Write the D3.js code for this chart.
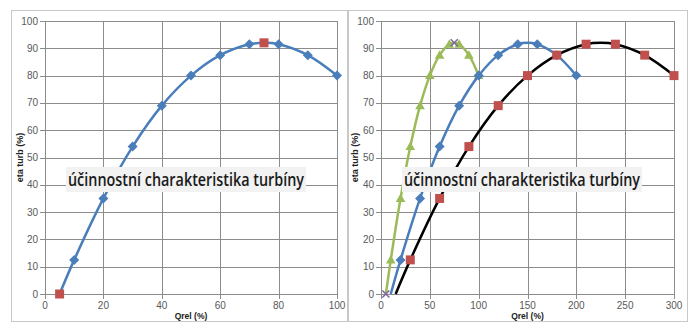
<!DOCTYPE html>
<html>
<head>
<meta charset="utf-8">
<script src="https://cdn.jsdelivr.net/npm/d3@7"></script>
<style>
  body { margin: 0; background: #fff; }
  svg { display: block; }
</style>
</head>
<body>
<div id="chart"></div>
<script>
// left panel: one turbine
let qrelLeft = [5, 10, 20, 30, 40, 50, 60, 70, 75, 80, 90, 100];
let etaLeft = [0, 12.5, 35, 54, 69, 80, 87.5, 91.5, 92, 91.5, 87.5, 80];
let keyQrelLeft = [5, 75];
let keyEtaLeft = [0, 92];

// right panel: three turbine sizes
let qrelGreen = [5, 10, 20, 30, 40, 50, 60, 70, 75, 80, 90, 100];
let qrelBlue = [10, 20, 40, 60, 80, 100, 120, 140, 150, 160, 180, 200];
let qrelBlack = [15, 30, 60, 90, 120, 150, 180, 210, 225, 240, 270, 300];
let etaRight = [0, 12.5, 35, 54, 69, 80, 87.5, 91.5, 92, 91.5, 87.5, 80];
let keyQrelRight = [5, 75];
let keyEtaRight = [0, 92];

let yTicks = [0, 10, 20, 30, 40, 50, 60, 70, 80, 90, 100];
let xTicksLeft = [0, 20, 40, 60, 80, 100];
let xTicksRight = [0, 50, 100, 150, 200, 250, 300];

let caption = "účinnostní charakteristika turbíny";
let xTitle = "Qrel (%)";
let yTitle = "eta turb (%)";

let font = "'Liberation Sans', Arial, sans-serif";
let gridColor = "#8c8c8c";
let tickColor = "#595959";

let svg = d3.select("#chart").append("svg")
    .attr("width", 700)
    .attr("height", 330);

function zip(xs, ys) {
    return xs.map((x, i) => ({ x: x, y: ys[i] }));
}

// marker shapes like the spreadsheet ones
let shapes = {
    diamond: "M0,-5L5,0L0,5L-5,0Z",
    triangle: "M0,-5L4.8,3.5L-4.8,3.5Z",
    square: "M-4.5,-4.5H4.5V4.5H-4.5Z"
};

function drawPanel(p) {
    let g = svg.append("g");
    // chart area frame
    g.append("rect")
        .attr("x", p.frame[0] + 0.5).attr("y", p.frame[1] + 0.5)
        .attr("width", p.frame[2] - p.frame[0]).attr("height", p.frame[3] - p.frame[1])
        .style("fill", "white")
        .style("stroke", "#c8c8c8")
        .style("stroke-width", 1);

    let x = d3.scaleLinear().domain(p.xDomain).range(p.xRange);
    let y = d3.scaleLinear().domain([0, 100]).range([294, 21]);

    // grid
    g.selectAll()
        .data(yTicks)
        .enter()
        .append("line")
        .attr("x1", p.xRange[0] - 5).attr("x2", p.xRange[1])
        .attr("y1", d => Math.round(y(d)) + 0.5).attr("y2", d => Math.round(y(d)) + 0.5)
        .style("stroke", gridColor).style("stroke-width", 1);
    g.selectAll()
        .data(p.xTicks)
        .enter()
        .append("line")
        .attr("x1", d => Math.round(x(d)) + 0.5).attr("x2", d => Math.round(x(d)) + 0.5)
        .attr("y1", y(100)).attr("y2", y(0) + 5)
        .style("stroke", gridColor).style("stroke-width", 1);

    // tick labels
    g.selectAll()
        .data(yTicks)
        .enter()
        .append("text")
        .attr("x", p.xRange[0] - 7)
        .attr("y", d => y(d) + 3.5)
        .attr("text-anchor", "end")
        .attr("font-family", font).attr("font-size", "10px")
        .style("fill", tickColor)
        .text(d => d);
    g.selectAll()
        .data(p.xTicks)
        .enter()
        .append("text")
        .attr("x", d => x(d))
        .attr("y", 309)
        .attr("text-anchor", "middle")
        .attr("font-family", font).attr("font-size", "10px")
        .style("fill", tickColor)
        .text(d => d);

    // axis titles
    g.append("text")
        .attr("x", (p.xRange[0] + p.xRange[1]) / 2)
        .attr("y", 319)
        .attr("text-anchor", "middle")
        .attr("font-family", font).attr("font-size", "8.5px").attr("font-weight", "bold")
        .style("fill", "#222")
        .text(xTitle);
    g.append("text")
        .attr("transform", "translate(" + p.yTitleX + "," + y(50) + ") rotate(-90)")
        .attr("text-anchor", "middle")
        .attr("font-family", font).attr("font-size", "9px").attr("font-weight", "bold")
        .style("fill", "#222")
        .text(yTitle);

    let line = d3.line()
        .x(d => x(d.x))
        .y(d => y(d.y))
        .curve(d3.curveCatmullRom.alpha(0.5));

    p.series.forEach(s => {
        let pts = zip(s.qrel, s.eta);
        g.append("path")
            .attr("d", line(pts))
            .style("fill", "none")
            .style("stroke", s.lineColor)
            .style("stroke-width", 2.5);
        // start and peak points carry no marker of their own
        let marks = pts.filter((d, i) => i != 0 && i != 8);
        g.selectAll()
            .data(marks)
            .enter()
            .append("path")
            .attr("transform", d => "translate(" + x(d.x) + "," + y(d.y) + ")")
            .attr("d", shapes[s.shape])
            .style("fill", s.markColor);
    });

    // key points (start and peak)
    let keys = zip(p.key.qrel, p.key.eta);
    if (p.key.type === "square") {
        g.selectAll()
            .data(keys)
            .enter()
            .append("path")
            .attr("transform", d => "translate(" + x(d.x) + "," + y(d.y) + ")")
            .attr("d", shapes.square)
            .style("fill", "#c0504d");
    } else {
        g.selectAll()
            .data(keys)
            .enter()
            .append("path")
            .attr("transform", d => "translate(" + x(d.x) + "," + y(d.y) + ")")
            .attr("d", "M-3.5,-3.5L3.5,3.5M-3.5,3.5L3.5,-3.5")
            .style("stroke", "#8064a2")
            .style("stroke-width", 1.5);
    }

    // caption box
    let cap = g.append("g");
    cap.append("rect")
        .attr("x", p.capX).attr("y", 167)
        .attr("width", 240).attr("height", 25)
        .style("fill", "#f2f2f2");
    cap.append("text")
        .attr("x", p.capX + 2).attr("y", 186)
        .attr("font-family", "'Open Sans', 'Noto Sans', sans-serif")
        .attr("font-size", "17.5px")
        .attr("font-weight", 600)
        .attr("textLength", 236)
        .attr("lengthAdjust", "spacingAndGlyphs")
        .style("fill", "#1a1a1a")
        .text(caption);
}

drawPanel({
    frame: [11, 10, 347, 321],
    xDomain: [0, 100],
    xRange: [45, 337],
    xTicks: xTicksLeft,
    yTitleX: 23,
    capX: 66,
    series: [
        { qrel: qrelLeft, eta: etaLeft, lineColor: "#4a7ebb", markColor: "#4a7ebb", shape: "diamond" }
    ],
    key: { qrel: keyQrelLeft, eta: keyEtaLeft, type: "square" }
});

drawPanel({
    frame: [348, 10, 687, 321],
    xDomain: [0, 300],
    xRange: [381, 674],
    xTicks: xTicksRight,
    yTitleX: 358,
    capX: 402,
    series: [
        { qrel: qrelGreen, eta: etaRight, lineColor: "#9bbb59", markColor: "#9bbb59", shape: "triangle" },
        { qrel: qrelBlue, eta: etaRight, lineColor: "#4a7ebb", markColor: "#4a7ebb", shape: "diamond" },
        { qrel: qrelBlack, eta: etaRight, lineColor: "#000000", markColor: "#c0504d", shape: "square" }
    ],
    key: { qrel: keyQrelRight, eta: keyEtaRight, type: "cross" }
});
</script>
</body>
</html>
